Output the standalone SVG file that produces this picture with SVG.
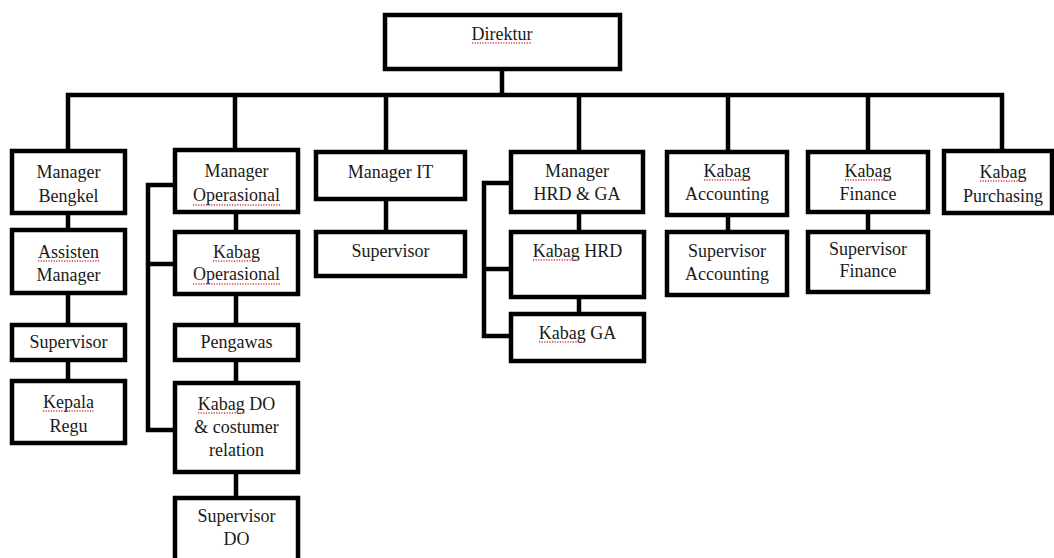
<svg xmlns="http://www.w3.org/2000/svg" width="1054" height="558" viewBox="0 0 1054 558">
<style>
.box{fill:#fff;stroke:#000;stroke-width:4.5}
.ln{fill:none;stroke:#000;stroke-width:4.5;stroke-linecap:square}
.t{font-family:"Liberation Serif","Times New Roman",serif;font-size:18px;fill:#1a1a1a;text-anchor:middle}
.sp{fill:none;stroke:#d23a3a;stroke-width:1.3;stroke-dasharray:1.2 1.4}
</style>
<rect width="1054" height="558" fill="#fff"/>
<g id="connectors">
<path class="ln" d="M502 69V95M68 95H1002M68 95V151M235 95V150M386 95V152M579 95V152M728 95V152M868 95V152M1002 95V151"/>
<path class="ln" d="M68 213V230M68 293V325M68 360V381"/>
<path class="ln" d="M236 212V232M236 294V325M236 360V383M236 472V498"/>
<path class="ln" d="M175 185H148V430H175M148 264H175"/>
<path class="ln" d="M386 199V232"/>
<path class="ln" d="M579 212V232M579 297V314"/>
<path class="ln" d="M511 183H484V336H511M484 269H511"/>
<path class="ln" d="M728 215V232M868 212V232"/>
</g>
<g id="direktur"><rect class="box" x="385" y="15" width="235" height="54"/><text class="t" x="502" y="40">Direktur</text><path class="sp" d="M472 43H532"/></g>
<g id="manager-bengkel"><rect class="box" x="12" y="151" width="113" height="62"/><text class="t" x="68.5" y="178">Manager</text><text class="t" x="68.5" y="202">Bengkel</text></g>
<g id="assisten-manager"><rect class="box" x="12" y="230" width="113" height="63"/><text class="t" x="68.5" y="258">Assisten</text><text class="t" x="68.5" y="281">Manager</text><path class="sp" d="M38 261H99"/></g>
<g id="supervisor-bengkel"><rect class="box" x="12" y="325" width="113" height="35"/><text class="t" x="68.5" y="348">Supervisor</text></g>
<g id="kepala-regu"><rect class="box" x="12" y="381" width="113" height="62"/><text class="t" x="68.5" y="408">Kepala</text><text class="t" x="68.5" y="432">Regu</text><path class="sp" d="M43 411H94"/></g>
<g id="manager-operasional"><rect class="box" x="175" y="150" width="123" height="62"/><text class="t" x="236.5" y="177">Manager</text><text class="t" x="236.5" y="201">Operasional</text><path class="sp" d="M193 205H280"/></g>
<g id="kabag-operasional"><rect class="box" x="175" y="232" width="123" height="62"/><text class="t" x="236.5" y="258">Kabag</text><text class="t" x="236.5" y="280">Operasional</text><path class="sp" d="M213 261H260M193 284H280"/></g>
<g id="pengawas"><rect class="box" x="175" y="325" width="123" height="35"/><text class="t" x="236.5" y="348">Pengawas</text></g>
<g id="kabag-do"><rect class="box" x="175" y="383" width="123" height="89"/><text class="t" x="236.5" y="410">Kabag DO</text><text class="t" x="236.5" y="433">&amp; costumer</text><text class="t" x="236.5" y="456">relation</text><path class="sp" d="M198 413H245"/></g>
<g id="supervisor-do"><rect class="box" x="175" y="498" width="123" height="70"/><text class="t" x="236.5" y="522">Supervisor</text><text class="t" x="236.5" y="545">DO</text></g>
<g id="manager-it"><rect class="box" x="316" y="152" width="149" height="47"/><text class="t" x="390.5" y="178">Manager IT</text></g>
<g id="supervisor-it"><rect class="box" x="316" y="232" width="149" height="44"/><text class="t" x="390.5" y="257">Supervisor</text></g>
<g id="manager-hrd-ga"><rect class="box" x="511" y="152" width="132" height="60"/><text class="t" x="577" y="177">Manager</text><text class="t" x="577" y="200">HRD &amp; GA</text></g>
<g id="kabag-hrd"><rect class="box" x="511" y="232" width="133" height="65"/><text class="t" x="577.5" y="257">Kabag HRD</text><path class="sp" d="M533 260H580"/></g>
<g id="kabag-ga"><rect class="box" x="511" y="314" width="133" height="47"/><text class="t" x="577.5" y="339">Kabag GA</text><path class="sp" d="M539 342H586"/></g>
<g id="kabag-accounting"><rect class="box" x="667" y="152" width="120" height="63"/><text class="t" x="727" y="177">Kabag</text><text class="t" x="727" y="200">Accounting</text><path class="sp" d="M704 180H751"/></g>
<g id="supervisor-accounting"><rect class="box" x="667" y="232" width="120" height="63"/><text class="t" x="727" y="257">Supervisor</text><text class="t" x="727" y="280">Accounting</text></g>
<g id="kabag-finance"><rect class="box" x="808" y="152" width="120" height="60"/><text class="t" x="868" y="177">Kabag</text><text class="t" x="868" y="200">Finance</text><path class="sp" d="M845 180H892"/></g>
<g id="supervisor-finance"><rect class="box" x="808" y="232" width="120" height="60"/><text class="t" x="868" y="255">Supervisor</text><text class="t" x="868" y="277">Finance</text></g>
<g id="kabag-purchasing"><rect class="box" x="944" y="151" width="108" height="62"/><text class="t" x="1003" y="178">Kabag</text><text class="t" x="1003" y="202">Purchasing</text><path class="sp" d="M980 181H1027"/></g>
</svg>
